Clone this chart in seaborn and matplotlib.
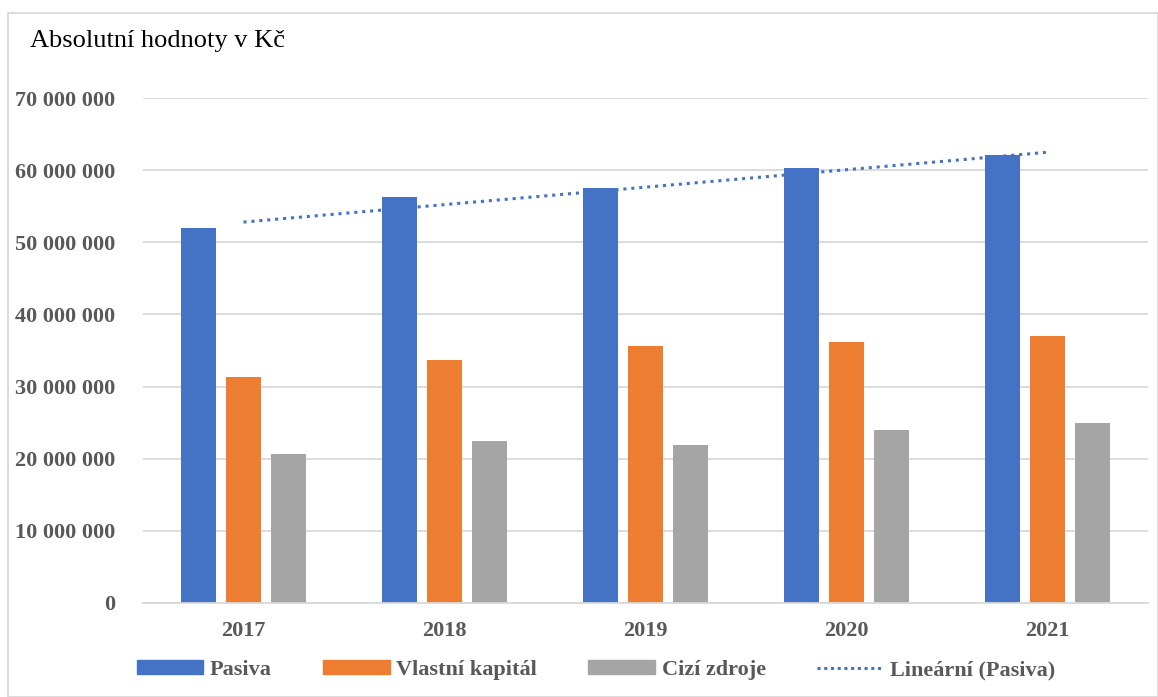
import numpy as np
import pandas as pd
import seaborn as sns
import matplotlib.pyplot as plt
from matplotlib.ticker import FuncFormatter, MultipleLocator
from matplotlib.patches import Rectangle

years = ["2017", "2018", "2019", "2020", "2021"]
pasiva = [52.0e6, 56.3e6, 57.5e6, 60.3e6, 62.1e6]
vlastni_kapital = [31.3e6, 33.7e6, 35.6e6, 36.2e6, 37.0e6]
cizi_zdroje = [20.6e6, 22.4e6, 21.9e6, 24.0e6, 24.9e6]
series_names = ["Pasiva", "Vlastní kapitál", "Cizí zdroje"]
colors = ["#4472C4", "#ED7D31", "#A5A5A5"]

df = pd.DataFrame({
    "rok": years * 3,
    "hodnota": pasiva + vlastni_kapital + cizi_zdroje,
    "rada": [s for s in series_names for _ in years],
})

sns.set_style("white")
plt.rcParams["font.family"] = ["Liberation Serif", "DejaVu Serif"]

fig = plt.figure(figsize=(11.58, 6.97), dpi=100)
W, H = 1158, 697
ax = fig.add_axes([143 / W, (H - 603) / H, (1148 - 143) / W, (603 - 98) / H])

sns.barplot(data=df, x="rok", y="hodnota", hue="rada", palette=colors,
            saturation=1, width=0.672, gap=0.223, linewidth=0, ax=ax, legend=False)

# linear trend of Pasiva (Excel style)
xs = np.arange(len(years))
k, q = np.polyfit(xs, pasiva, 1)
sns.lineplot(x=xs, y=k * xs + q, color="#4472C4", linestyle=(0, (1, 1.6)),
             linewidth=2.2, ax=ax)

ax.set_xlim(-0.5, 4.5)
ax.set_ylim(0, 70e6)
ax.yaxis.set_major_locator(MultipleLocator(10e6))
ax.yaxis.set_major_formatter(FuncFormatter(lambda v, p: f"{int(v):,}".replace(",", " ")))
ax.grid(axis="y", color="#D9D9D9", linewidth=1.3)
ax.set_axisbelow(True)
for s in ["top", "right", "left"]:
    ax.spines[s].set_visible(False)
ax.spines["bottom"].set_color("#D9D9D9")
ax.spines["bottom"].set_linewidth(1.3)
ax.set_xlabel("")
ax.set_ylabel("")
ax.tick_params(axis="y", length=0, pad=20, labelsize=16, labelcolor="#595959")
ax.tick_params(axis="x", length=0, pad=13, labelsize=16, labelcolor="#595959")
for lab in ax.get_xticklabels() + ax.get_yticklabels():
    lab.set_fontweight("bold")

fig.text(30 / W, 1 - 41 / H, "Absolutní hodnoty v Kč", fontsize=19,
         color="black", va="center", ha="left")

handles = [Rectangle((0, 0), 1, 1, color=c) for c in colors]
handles.append(plt.Line2D([0], [0], color="#4472C4", linestyle=(0, (1, 1.2)), linewidth=2.2))
labels = series_names + ["Lineární (Pasiva)"]
leg = fig.legend(handles, labels, loc="center", bbox_to_anchor=(596 / W, 1 - 670 / H),
                 ncol=4, frameon=False, handlelength=3.0, handleheight=0.6,
                 columnspacing=2.3, handletextpad=0.3,
                 prop={"size": 16, "weight": "bold"})
for t in leg.get_texts():
    t.set_color("#595959")

fig.patches.append(Rectangle((8 / W, 0), 1 - 8 / W, 1 - 13 / H, transform=fig.transFigure,
                             fill=False, edgecolor="#D9D9D9", linewidth=1.3))

fig.savefig("out.png", dpi=100)
